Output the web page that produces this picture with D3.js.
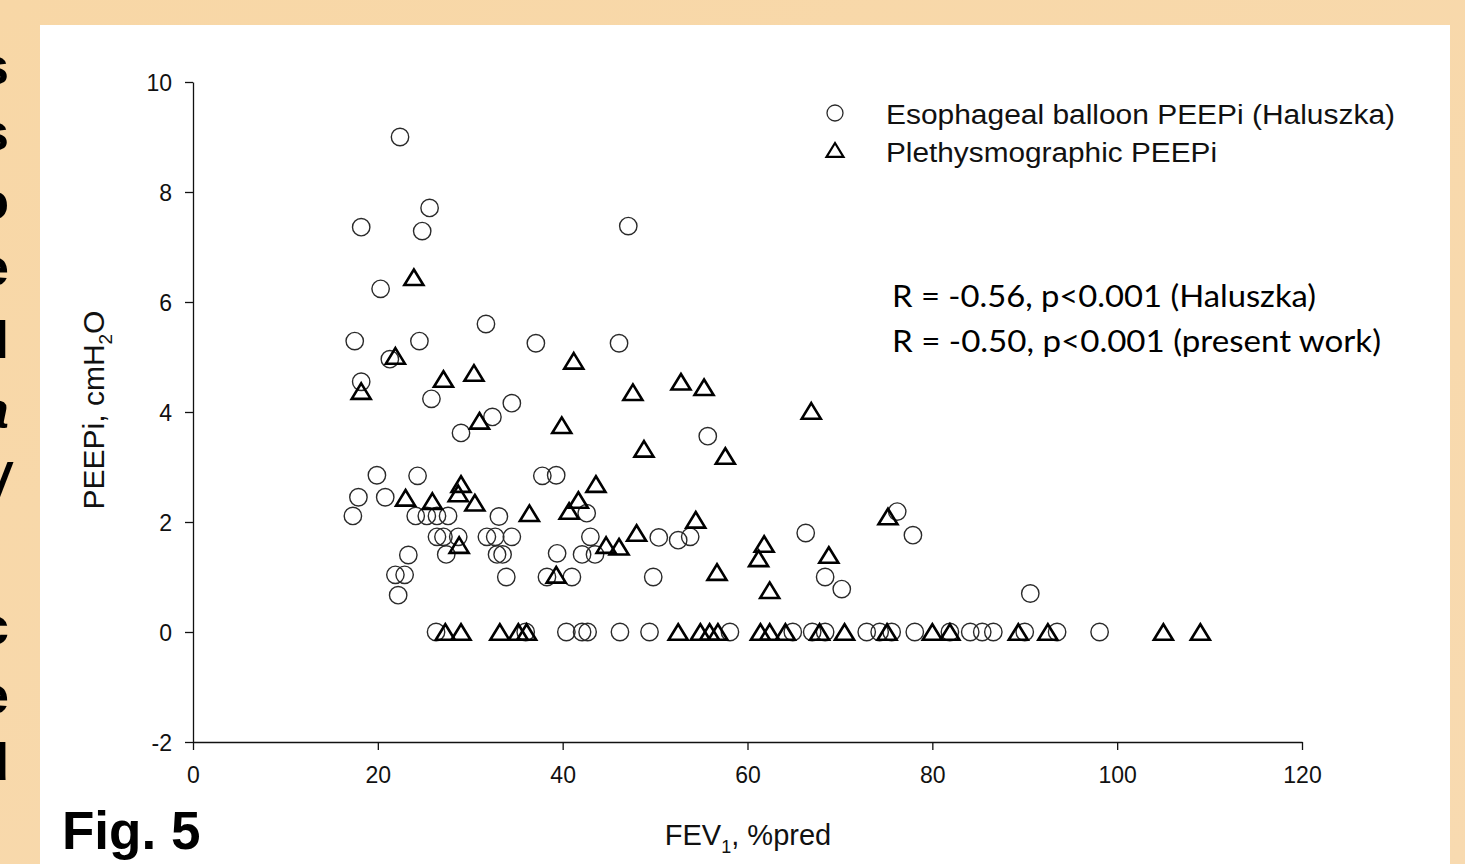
<!DOCTYPE html>
<html>
<head>
<meta charset="utf-8">
<script src="https://cdn.jsdelivr.net/npm/d3@7"></script>
<style>
  html, body { margin: 0; padding: 0; overflow: hidden; }
  body { width: 1465px; height: 864px; }
  text { font-family: "Liberation Sans", Arial, sans-serif; }
</style>
</head>
<body>
<svg id="chart" width="1465" height="864"></svg>
<script>
// Esophageal balloon PEEPi (Haluszka) - [FEV1 %pred, PEEPi]
const esophageal = [
  [22.4, 9.0], [18.2, 7.36], [25.6, 7.71], [24.8, 7.29], [47.1, 7.38],
  [20.3, 6.24], [31.7, 5.6], [17.5, 5.29], [24.5, 5.29], [37.1, 5.25],
  [46.1, 5.25], [21.3, 4.96], [18.2, 4.55], [25.8, 4.24], [34.5, 4.16],
  [32.4, 3.91], [29.0, 3.62], [55.7, 3.56],
  [19.9, 2.85], [24.3, 2.84], [37.8, 2.84], [39.3, 2.85],
  [17.9, 2.45], [20.8, 2.45],
  [17.3, 2.11], [24.1, 2.11], [25.3, 2.11], [26.4, 2.11], [27.6, 2.11],
  [33.1, 2.1], [42.6, 2.16],
  [26.4, 1.73], [27.1, 1.73], [28.7, 1.73], [31.8, 1.73], [32.7, 1.73],
  [34.5, 1.73], [43.0, 1.73], [50.4, 1.72], [52.5, 1.67], [53.8, 1.73],
  [23.3, 1.4], [27.4, 1.41], [32.9, 1.41], [33.5, 1.41], [39.4, 1.43],
  [42.1, 1.41], [43.5, 1.41],
  [21.9, 1.04], [22.9, 1.04], [33.9, 1.0], [38.3, 1.0], [41.0, 1.0], [49.8, 1.0],
  [22.2, 0.67],
  [66.3, 1.8], [68.4, 1.0], [70.2, 0.78], [76.2, 2.19], [77.9, 1.76], [90.6, 0.7],
  [26.3, 0], [36.0, 0], [40.4, 0], [42.1, 0], [42.7, 0], [46.2, 0], [49.4, 0],
  [58.1, 0], [64.9, 0], [67.0, 0], [68.4, 0], [72.9, 0], [74.3, 0], [75.6, 0],
  [78.1, 0], [81.9, 0], [84.1, 0], [85.4, 0], [86.6, 0], [90.0, 0], [93.5, 0],
  [98.1, 0]
];

// Plethysmographic PEEPi (present work)
const plethysmographic = [
  [23.9, 6.45], [21.9, 5.02], [18.2, 4.38], [27.1, 4.6], [30.4, 4.71],
  [41.2, 4.93], [31.0, 3.84], [39.9, 3.76], [52.8, 4.55], [55.3, 4.45],
  [47.6, 4.36], [48.8, 3.33], [57.6, 3.2], [66.9, 4.02],
  [43.6, 2.69], [29.0, 2.69], [28.7, 2.52], [23.0, 2.44], [25.9, 2.38],
  [30.5, 2.35], [36.4, 2.16], [40.7, 2.2], [41.7, 2.4], [54.4, 2.04], [75.2, 2.1],
  [28.8, 1.58], [44.7, 1.58], [46.1, 1.55], [48.0, 1.8],
  [39.3, 1.04], [56.7, 1.09], [61.8, 1.6], [61.2, 1.34], [68.8, 1.4], [62.4, 0.76],
  [27.3, 0], [29.0, 0], [33.2, 0], [35.2, 0], [36.1, 0], [52.5, 0], [54.9, 0],
  [55.9, 0], [56.8, 0], [61.4, 0], [62.4, 0], [64.1, 0], [67.8, 0], [70.5, 0],
  [75.1, 0], [80.0, 0], [81.9, 0], [89.3, 0], [92.5, 0], [105.0, 0], [109.0, 0]
];

const xTicks = [0, 20, 40, 60, 80, 100, 120];
const yTicks = [-2, 0, 2, 4, 6, 8, 10];
const legendLabels = ['Esophageal balloon PEEPi (Haluszka)', 'Plethysmographic PEEPi'];
const statLines = ['R = -0.56, p<0.001 (Haluszka)', 'R = -0.50, p<0.001 (present work)'];
// clipped slide text on the left edge (cut off in the original too)
const sideLetters = [
  {ch: 's', y: 84}, {ch: 's', y: 150}, {ch: 'o', y: 219}, {ch: 'e', y: 285},
  {ch: 'l', y: 358}, {ch: 'a', y: 428, it: true}, {ch: '/', y: 500, it: true},
  {ch: 'c', y: 644}, {ch: 'e', y: 713}, {ch: 'd', y: 780}
];

const svg = d3.select('#chart');

// Background: beige slide + white figure panel
const defs = svg.append('defs');
const grad = defs.append('linearGradient').attr('id', 'bg').attr('x1', 0).attr('y1', 0).attr('x2', 1).attr('y2', 1);
grad.append('stop').attr('offset', 0).attr('stop-color', '#f8d7a6');
grad.append('stop').attr('offset', 1).attr('stop-color', '#f8dab0');
svg.append('rect').attr('width', 1465).attr('height', 864).attr('fill', 'url(#bg)');

svg.selectAll('.side')
  .data(sideLetters)
  .enter()
  .append('text')
  .attr('class', 'side')
  .attr('x', 9)
  .attr('y', d => d.y)
  .attr('text-anchor', 'end')
  .attr('font-size', '52px')
  .attr('font-weight', 'bold')
  .attr('font-style', d => d.it ? 'italic' : 'normal')
  .attr('fill', '#000')
  .text(d => d.ch);

svg.append('rect').attr('x', 40).attr('y', 25).attr('width', 1410).attr('height', 839).attr('fill', '#fff');

// Scales
const x = d3.scaleLinear().domain([0, 120]).range([193, 1302]);
const y = d3.scaleLinear().domain([-2, 10]).range([742, 82]);

// Axes (plain hyphen for negatives, like the original)
const xAxis = svg.append('g')
  .attr('transform', `translate(0,${y(-2)})`)
  .call(d3.axisBottom(x).tickValues(xTicks).tickFormat(d => String(d))
    .tickSize(8).tickPadding(17).tickSizeOuter(0));
const yAxis = svg.append('g')
  .attr('transform', `translate(${x(0)},0)`)
  .call(d3.axisLeft(y).tickValues(yTicks).tickFormat(d => String(d))
    .tickSize(8).tickPadding(13).tickSizeOuter(0));

[xAxis, yAxis].forEach(g => {
  g.select('.domain').attr('stroke', '#111').attr('stroke-width', 1.3);
  g.selectAll('.tick line').attr('stroke', '#111').attr('stroke-width', 1.3);
  g.selectAll('.tick text')
    .attr('fill', '#111')
    .attr('font-size', '23px')
    .attr('font-family', '"Liberation Sans", Arial, sans-serif');
});
yAxis.selectAll('.tick text').attr('dy', '0.36em');

// Axis labels
const xLabel = svg.append('text')
  .attr('x', 748)
  .attr('y', 845)
  .attr('text-anchor', 'middle')
  .attr('font-size', '29px')
  .attr('fill', '#111');
xLabel.append('tspan').text('FEV');
xLabel.append('tspan').attr('font-size', '18px').attr('dy', 8).text('1');
xLabel.append('tspan').attr('dy', -8).text(', %pred');

const yLabel = svg.append('text')
  .attr('transform', 'translate(104,410) rotate(-90)')
  .attr('text-anchor', 'middle')
  .attr('font-size', '30px')
  .attr('fill', '#111');
yLabel.append('tspan').text('PEEPi, cmH');
yLabel.append('tspan').attr('font-size', '19px').attr('dy', 8).text('2');
yLabel.append('tspan').attr('dy', -8).text('O');

// Symbols
const tri = {
  draw(ctx, size) {
    const w = Math.sqrt(size), h = w * 0.82;
    ctx.moveTo(0, -h / 2);
    ctx.lineTo(w / 2, h / 2);
    ctx.lineTo(-w / 2, h / 2);
    ctx.closePath();
  }
};
const triPath = d3.symbol().type(tri).size(19 * 19);

svg.append('g')
  .selectAll('circle')
  .data(esophageal)
  .enter()
  .append('circle')
  .attr('cx', d => x(d[0]))
  .attr('cy', d => y(d[1]))
  .attr('r', 8.7)
  .attr('fill', 'none')
  .attr('stroke', '#2a2a2a')
  .attr('stroke-width', 1.4);

svg.append('g')
  .selectAll('path')
  .data(plethysmographic)
  .enter()
  .append('path')
  .attr('transform', d => `translate(${x(d[0])},${y(d[1])})`)
  .attr('d', triPath)
  .attr('fill', 'none')
  .attr('stroke', '#000')
  .attr('stroke-width', 2.6)
  .attr('stroke-linejoin', 'miter');

// Legend
svg.append('circle').attr('cx', 835).attr('cy', 113).attr('r', 8)
  .attr('fill', 'none').attr('stroke', '#2a2a2a').attr('stroke-width', 1.3);
svg.append('path').attr('transform', 'translate(835,150)')
  .attr('d', d3.symbol().type(tri).size(17 * 17))
  .attr('fill', 'none').attr('stroke', '#000').attr('stroke-width', 2.2);

svg.selectAll('.legend')
  .data(legendLabels)
  .enter()
  .append('text')
  .attr('class', 'legend')
  .attr('x', 886)
  .attr('y', (d, i) => 124 + i * 38)
  .attr('font-size', '27px')
  .attr('fill', '#111')
  .attr('textLength', (d, i) => i === 0 ? 509 : 331)
  .attr('lengthAdjust', 'spacingAndGlyphs')
  .text(d => d);

// Correlation annotation
svg.selectAll('.stat')
  .data(statLines)
  .enter()
  .append('text')
  .attr('class', 'stat')
  .attr('x', 892)
  .attr('y', (d, i) => 307 + i * 45)
  .attr('font-size', '31px')
  .style('font-family', 'Lato, "Open Sans", sans-serif')
  .attr('fill', '#000')
  .attr('textLength', (d, i) => i === 0 ? 424 : 489)
  .attr('lengthAdjust', 'spacingAndGlyphs')
  .text(d => d);

// Figure number
svg.append('text')
  .attr('x', 62)
  .attr('y', 849)
  .attr('font-size', '53px')
  .attr('font-weight', 'bold')
  .attr('fill', '#000')
  .text('Fig. 5');
</script>
</body>
</html>
